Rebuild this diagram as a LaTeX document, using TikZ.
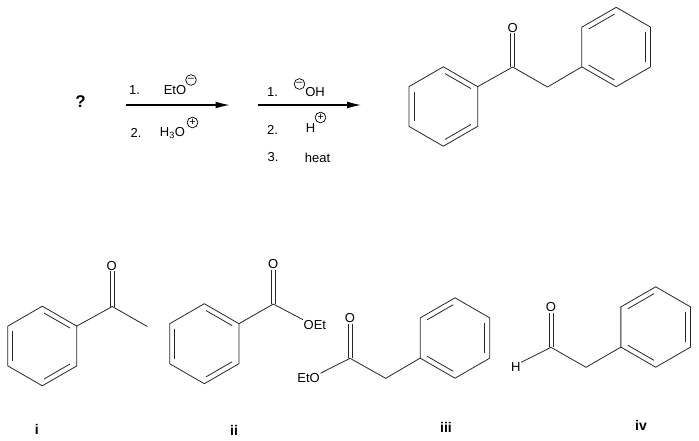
\documentclass[tikz,border=0pt]{standalone}
\usepackage{fontspec}
\setmainfont{Liberation Sans}
\usetikzlibrary{calc,arrows.meta}
\tikzset{
  bond/.style={draw,line width=.8pt,color=black!85},
  atom/.style={inner sep=.5pt,font=\fontsize{13}{15}\selectfont},
  reagent/.style={inner sep=0pt,font=\fontsize{13}{15}\selectfont},
  charge/.style={draw,circle,line width=.7pt,minimum size=10.7pt,inner sep=0pt,font=\fontsize{11}{11}\selectfont},
  tag/.style={inner sep=0pt,font=\bfseries\fontsize{14}{16}\selectfont},
  rxn/.style={draw,line width=1.1pt,-{Latex[length=14pt,width=7pt]}}
}
% ring name, x, y, first angle, radius
\newcommand{\phenyl}[5]{
  \coordinate (#1) at (#2,#3);
  \foreach \k in {0,...,5} {
    \coordinate (#1-\k) at ([shift={(#4+60*\k:#5pt)}]#1);
  }
  \path[bond] (#1-0) -- (#1-1) -- (#1-2) -- (#1-3) -- (#1-4) -- (#1-5) -- cycle;
  \foreach \k/\j in {0/1,2/3,4/5} {
    \path[bond,shorten >=2pt,shorten <=2pt] ($(#1-\k)!.146!(#1)$) -- ($(#1-\j)!.146!(#1)$);
  }
}
\newcommand{\carbonyl}[2]{
  \path[bond] ([xshift=-2pt]#1) -- ([xshift=-2pt]#1 |- #2.south);
  \path[bond] ([xshift=2pt]#1) -- ([xshift=2pt]#1 |- #2.south);
}
\begin{document}
\begin{tikzpicture}[x=1pt,y=-1pt]
\useasboundingbox (0,0) rectangle (699,440);

% reaction scheme
\node[tag,font=\bfseries\fontsize{17}{19}\selectfont] (what) at (80.5,102) {?};
\coordinate (a1) at (126,105);
\coordinate (b1) at (229.5,105);
\coordinate (a2) at (257.5,105);
\coordinate (b2) at (361,105);
\path[rxn] (a1) -- (b1);
\path[rxn] (a2) -- (b2);

\node[reagent] (s11) at (134.5,90.5) {1.};
\node[reagent] (eto) at (175,90.5) {EtO};
\node[charge] (eto-c) at (191,80) {--};
\node[reagent] (s12) at (136,132.5) {2.};
\node[reagent] (h3o) at (172.5,133) {H\textsubscript{3}O};
\node[charge] (h3o-c) at (192.5,122.5) {+};

\node[reagent] (s21) at (272.5,92.5) {1.};
\node[charge] (oh-c) at (299.5,84) {--};
\node[reagent] (oh) at (315,92.5) {OH};
\node[reagent] (s22) at (272.5,130) {2.};
\node[reagent] (h) at (310.5,128) {H};
\node[charge] (h-c) at (320.5,117.5) {+};
\node[reagent] (s23) at (273,157.5) {3.};
\node[reagent] (heat) at (317.5,157.5) {heat};

% product
\phenyl{pa}{443.3}{106.5}{30}{39.7}
\phenyl{pb}{616.2}{47}{90}{39.7}
\coordinate (pc) at (512.7,67);
\coordinate (pm) at (547.5,87);
\node[atom] (po) at (512.7,28) {O};
\carbonyl{pc}{po}
\path[bond] (pa-0) -- (pc) -- (pm) -- (pb-2);

% i
\phenyl{ia}{42.3}{346}{30}{39.8}
\coordinate (ic) at (112.3,306.5);
\coordinate (ime) at (147.3,326.5);
\node[atom] (io) at (111.8,266) {O};
\carbonyl{ic}{io}
\path[bond] (ia-0) -- (ic) -- (ime);
\node[tag] (ti) at (36.7,429) {i};

% ii
\phenyl{ea}{204.3}{343.7}{30}{40}
\coordinate (ec) at (273.3,304);
\node[atom] (eo) at (273.3,264.3) {O};
\node[atom,anchor=west] (eoet) at (303,325) {OEt};
\carbonyl{ec}{eo}
\path[bond] (ea-0) -- (ec) -- (eoet.north west);
\node[tag] (tii) at (234,430) {ii};

% iii
\phenyl{ga}{455}{338}{90}{40.2}
\coordinate (gc) at (350,358.3);
\coordinate (gm) at (385.7,378.3);
\node[atom] (go) at (350,318.3) {O};
\node[atom,anchor=east] (geto) at (320.5,378.5) {EtO};
\carbonyl{gc}{go}
\path[bond] (geto.north east) -- (gc) -- (gm) -- (ga-2);
\node[tag] (tiii) at (446,427.5) {iii};

% iv
\phenyl{ha}{655.7}{327}{90}{40.2}
\coordinate (hc) at (551,347.3);
\coordinate (hm) at (586,367.3);
\node[atom] (ho) at (551,307.3) {O};
\node[atom] (hh) at (515.7,367.5) {H};
\carbonyl{hc}{ho}
\path[bond] (hh.north east) -- (hc) -- (hm) -- (ha-2);
\node[tag] (tiv) at (641,425.7) {iv};
\end{tikzpicture}
\end{document}
